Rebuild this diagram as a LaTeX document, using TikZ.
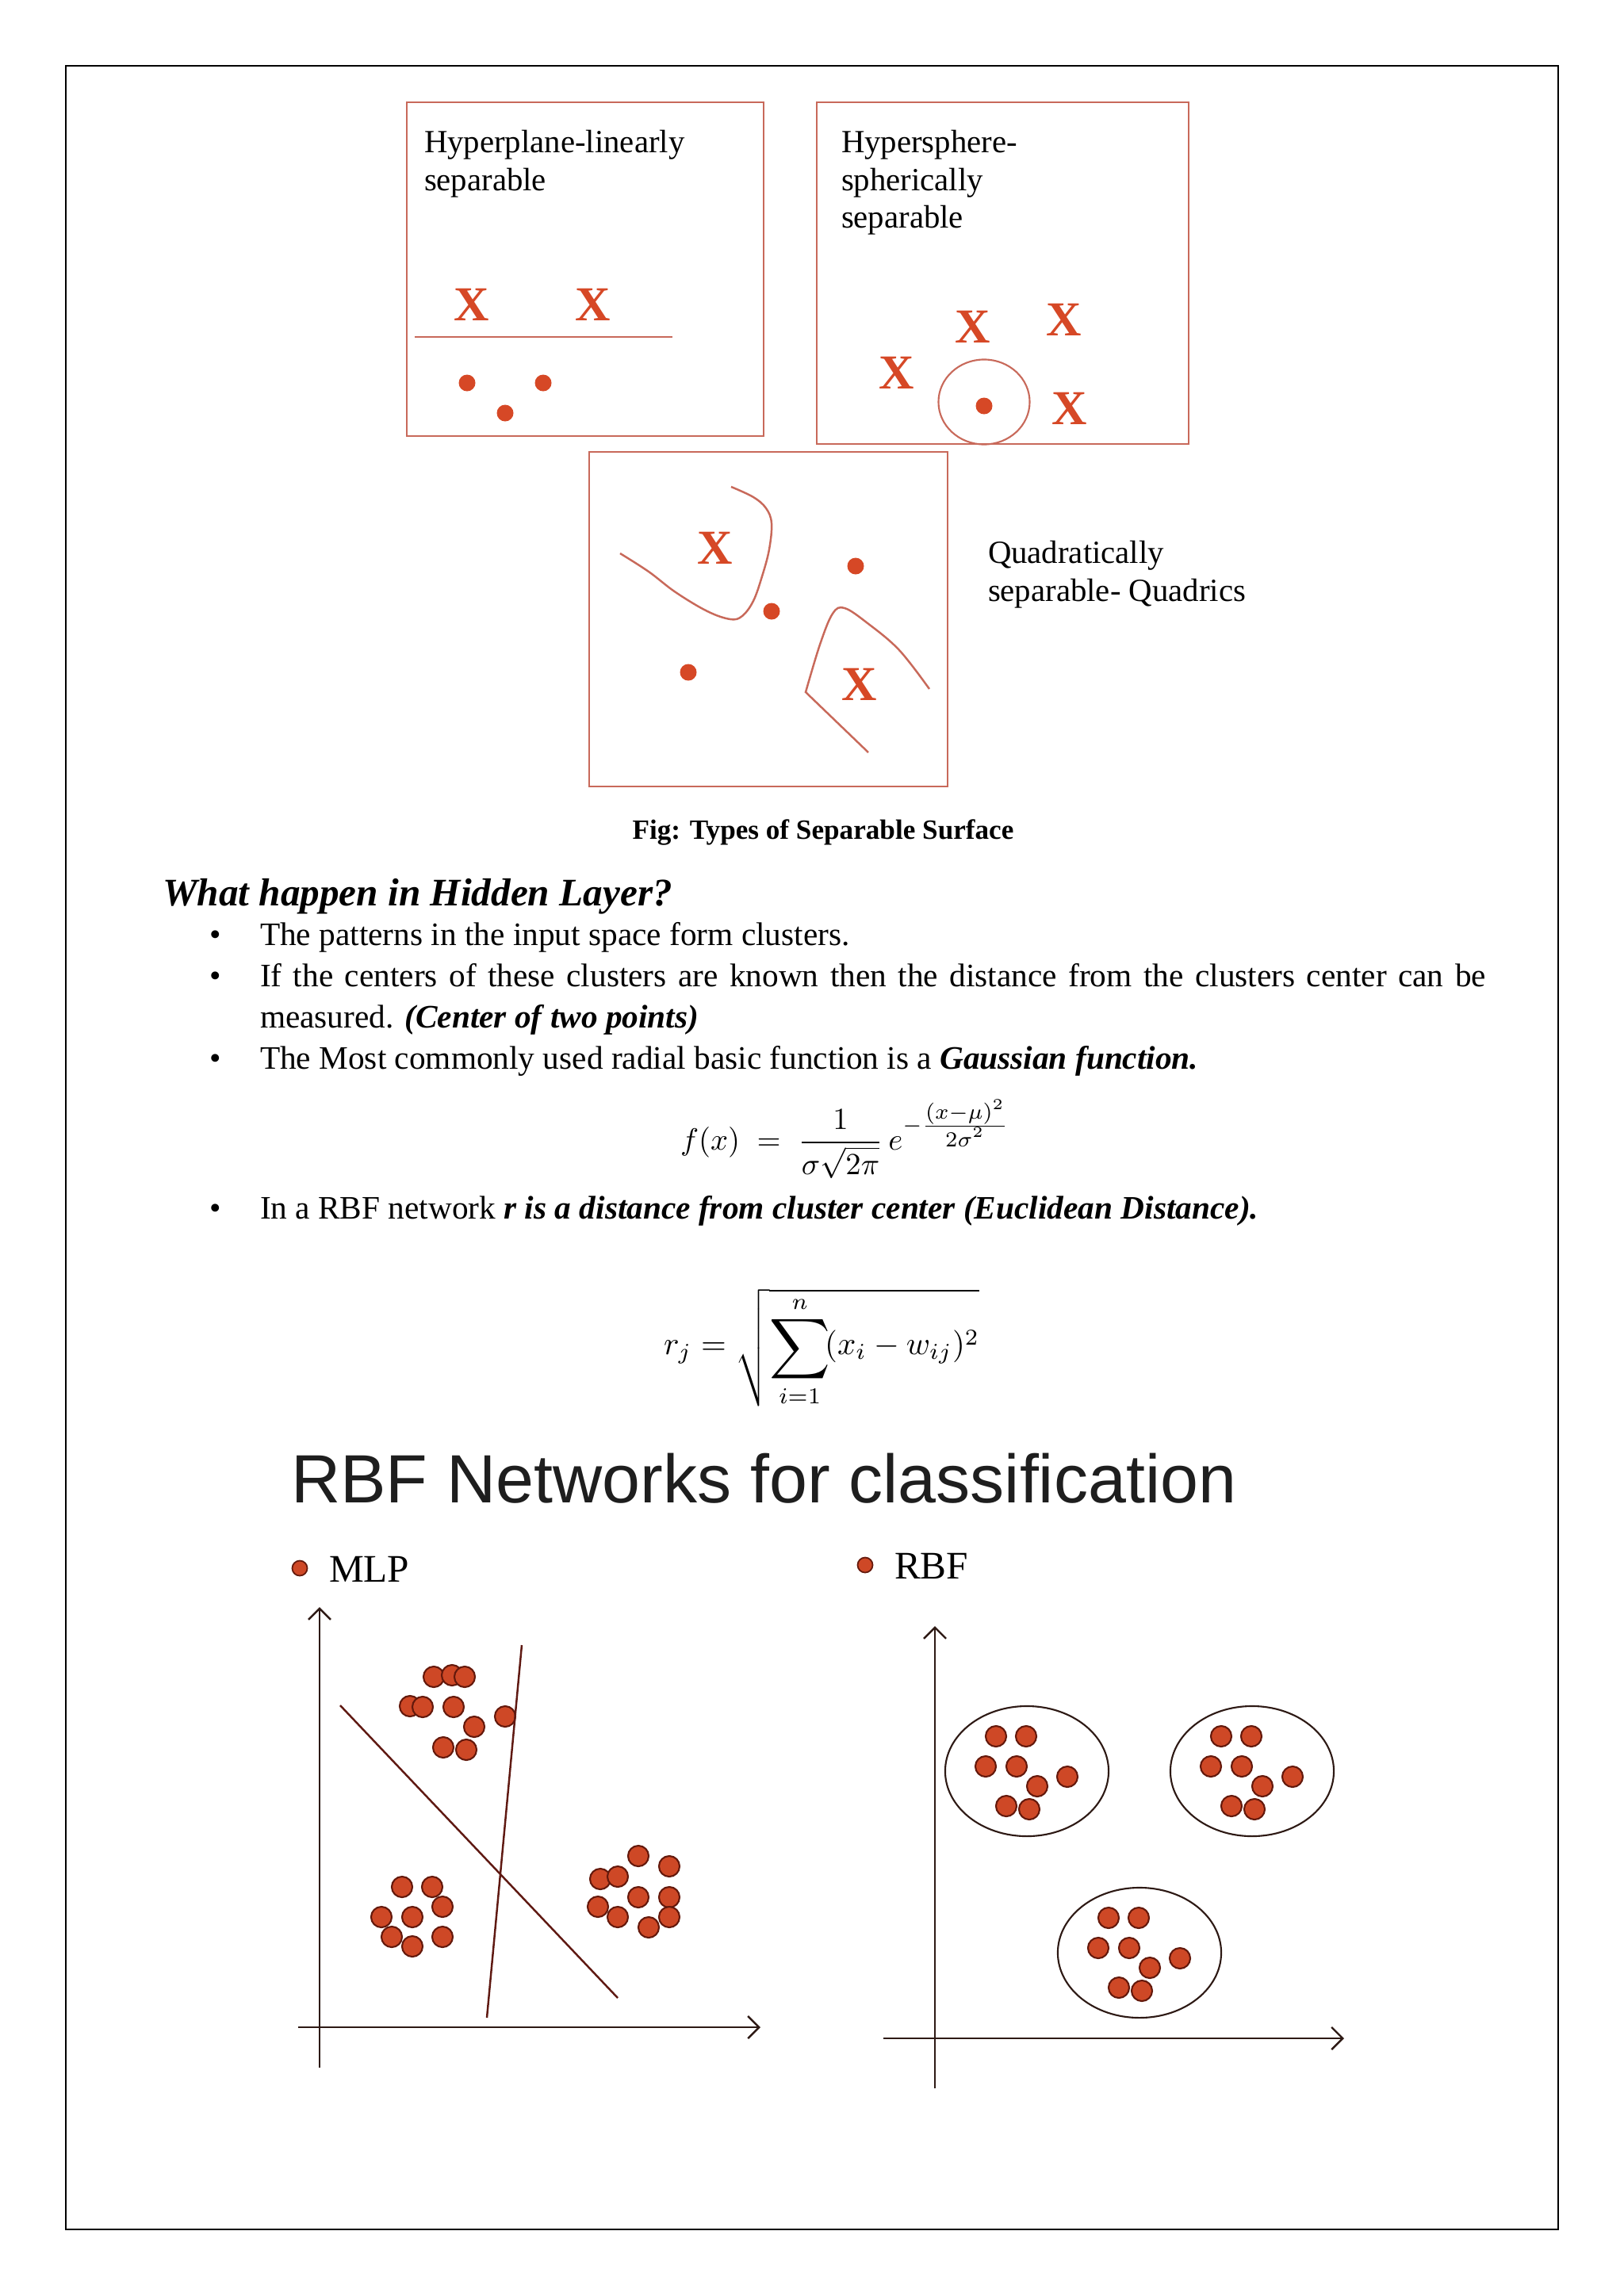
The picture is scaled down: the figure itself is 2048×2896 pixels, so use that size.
\documentclass[tikz,border=0pt]{standalone}
\usepackage{fontspec}
\usepackage{amsmath}
\usepackage{graphicx}
\setmainfont{Liberation Serif}
\newfontfamily\titlefont{Liberation Sans}
\usetikzlibrary{arrows.meta}
\definecolor{xred}{RGB}{214,72,38}
\definecolor{boxred}{RGB}{200,105,90}
\definecolor{dotfill}{RGB}{206,72,38}
\definecolor{dotedge}{RGB}{100,25,12}
\definecolor{axiscol}{RGB}{45,25,20}
\definecolor{linecol}{RGB}{95,25,18}
\definecolor{titlecol}{RGB}{30,30,30}
\newcommand\bdot[1]{\filldraw[fill=dotfill,draw=dotedge,line width=0.6pt] #1 circle (0.13cm);}
\begin{document}
\begin{tikzpicture}[x=0.01cm,y=-0.01cm,
  every node/.style={inner sep=0pt,outer sep=0pt},
  panel/.style={draw=boxred,line width=0.6pt},
  curvel/.style={draw=boxred,line width=0.7pt},
  xmark/.style={text=xred,font=\fontsize{17.5}{20}\selectfont\bfseries},
  ptdot/.style={fill=xred},
  boxtext/.style={anchor=base west,font=\fontsize{11.6}{14}\selectfont},
  body/.style={anchor=base west,font=\fontsize{11.75}{14}\selectfont},
  bul/.style={anchor=base,font=\fontsize{11.75}{14}\selectfont},
  axisline/.style={draw=axiscol,line width=0.7pt,-{Straight Barb[length=4pt,width=8pt]}},
  sepline/.style={draw=linecol,line width=0.7pt},
  ell/.style={draw=axiscol,line width=0.6pt}]
\fill[white] (0,0) rectangle (2048,2896);
\useasboundingbox (0,0) rectangle (2048,2896);
% page frame
\draw[black,line width=0.8pt] (83,83) rectangle (1965,2812);

% ---------- Box 1: hyperplane
\draw[panel] (513,129) rectangle (963,550);
\node[boxtext] (t1a) at (535,192) {Hyperplane-linearly};
\node[boxtext] (t1b) at (535,240) {separable};
\node[xmark] (x11) at (595,384) {X};
\node[xmark] (x12) at (748,384) {X};
\draw[boxred,line width=0.8pt] (523,425) -- (848,425);
\fill[ptdot] (589,483) circle (0.105cm);
\fill[ptdot] (685,483) circle (0.105cm);
\fill[ptdot] (637,521) circle (0.105cm);

% ---------- Box 2: hypersphere
\draw[panel] (1030,129) rectangle (1499,560);
\node[boxtext] (t2a) at (1061,192) {Hypersphere-};
\node[boxtext] (t2b) at (1061,240) {spherically};
\node[boxtext] (t2c) at (1061,287) {separable};
\node[xmark] (x21) at (1227,412) {X};
\node[xmark] (x22) at (1342,403) {X};
\node[xmark] (x23) at (1131,470) {X};
\node[xmark] (x24) at (1349,515) {X};
\draw[boxred,line width=0.6pt] (1241,507) ellipse (0.575cm and 0.535cm);
\fill[ptdot] (1241,512) circle (0.105cm);

% ---------- Box 3: quadrics
\draw[panel] (743,570) rectangle (1195,992);
\node[boxtext] (t3a) at (1246,710) {Quadratically};
\node[boxtext] (t3b) at (1246,758) {separable- Quadrics};
\node[xmark] (x31) at (902,691) {X};
\node[xmark] (x32) at (1084,863) {X};
\fill[ptdot] (1079,714) circle (0.105cm);
\fill[ptdot] (973,771) circle (0.105cm);
\fill[ptdot] (868,848) circle (0.105cm);
\draw[curvel] plot[smooth,tension=0.6] coordinates {(782,698) (818,721) (852,747) (892,771) (921,781) (936,777) (950,758) (961,727) (970,693) (973,660) (966,641) (950,627) (922,614)};
\draw[curvel] plot[smooth,tension=0.6] coordinates {(1172,869) (1134,820) (1094,786) (1065,767) (1050,774) (1034,813) (1016,873)} -- (1095,949);

% caption
\node[anchor=base,font=\fontsize{10}{12}\selectfont\bfseries] (cap) at (1038,1058) {Fig: Types of Separable Surface};

% ---------- text
\node[anchor=base west,font=\fontsize{14}{17}\selectfont\bfseries\itshape] (head) at (205,1142) {What happen in Hidden Layer?};
\node[bul] (b1) at (272,1192) {•};
\node[body] (l1) at (328,1192) {The patterns in the input space form clusters.};
\node[bul] (b2) at (272,1244) {•};
\node[body] (l2) at (328,1244) {\makebox[15.45cm][s]{If the centers of these clusters are known then the distance from the clusters center can be}};
\node[body] (l2b) at (328,1296) {measured. \textbf{\textit{(Center of two points)}}};
\node[bul] (b3) at (272,1348) {•};
\node[body] (l3) at (328,1348) {The Most commonly used radial basic function is a \textbf{\textit{Gaussian function.}}};
\node[anchor=west] (f1) at (858,1437) {\resizebox{4.15cm}{!}{$\displaystyle f(x)\;=\;\frac{1}{\sigma\sqrt{2\pi}}\,e^{-\frac{\scriptstyle (x-\mu)^2}{\scriptstyle 2\sigma^2}}$}};
\node[bul] (b4) at (272,1537) {•};
\node[body] (l4) at (328,1537) {In a RBF network \textbf{\textit{r is a distance from cluster center (Euclidean Distance).}}};
\node[anchor=west] (f2) at (837,1700) {\resizebox{3.98cm}{!}{$\displaystyle r_j=\sqrt{\mathop{\raisebox{-0.35ex}{\scalebox{1.3}{$\displaystyle\sum$}}}\limits_{i=1}^{n}\!(x_i-w_{ij})^2}$}};

% ---------- slide part
\node[anchor=base west,text=titlecol,font=\titlefont\fontsize{24.5}{29}\selectfont] (title) at (367,1895) {RBF Networks for classification};
\filldraw[fill=dotfill,draw=dotedge,line width=0.5pt] (378,1978) circle (0.095cm);
\node[anchor=base west,font=\fontsize{14}{17}\selectfont] (mlp) at (415,1995) {MLP};
\filldraw[fill=dotfill,draw=dotedge,line width=0.5pt] (1091,1974) circle (0.095cm);
\node[anchor=base west,font=\fontsize{14}{17}\selectfont] (rbf) at (1128,1991) {RBF};

% MLP chart
\coordinate (ay0) at (403,2608);
\coordinate (ay1) at (403,2027);
\coordinate (ax0) at (376,2557);
\coordinate (ax1) at (959,2557);
\draw[axisline] (ay0) -- (ay1);
\draw[axisline] (ax0) -- (ax1);
\coordinate (la0) at (429,2151);
\coordinate (la1) at (779,2520);
\coordinate (lb0) at (658,2075);
\coordinate (lb1) at (614,2545);
\draw[sepline] (la0) -- (la1);
\foreach \p in {(547,2115),(570,2113),(586,2115),(517,2152),(533,2153),(572,2153),(598,2178),(637,2165),(559,2204),(588,2207)} {\bdot{\p}}
\foreach \p in {(507,2380),(545,2380),(558,2405),(481,2418),(520,2418),(494,2443),(558,2443),(520,2455)} {\bdot{\p}}
\foreach \p in {(805,2341),(844,2354),(757,2370),(779,2367),(805,2393),(844,2393),(754,2405),(779,2418),(844,2418),(818,2431)} {\bdot{\p}}
\draw[sepline] (lb0) -- (lb1);

% RBF chart
\coordinate (by0) at (1179,2634);
\coordinate (by1) at (1179,2051);
\coordinate (bx0) at (1114,2571);
\coordinate (bx1) at (1695,2571);
\draw[axisline] (by0) -- (by1);
\draw[axisline] (bx0) -- (bx1);
\foreach \cx/\cy in {1295/2234,1579/2234,1437/2463}{
  \draw[ell] (\cx,\cy) ellipse (1.03cm and 0.82cm);
  \foreach \dx/\dy in {-39/-44,-1/-44,-52/-6,-13/-6,13/19,51/7,-26/44,3/48}{
    \bdot{(\cx+\dx,\cy+\dy)}
  }
}
\end{tikzpicture}
\end{document}
